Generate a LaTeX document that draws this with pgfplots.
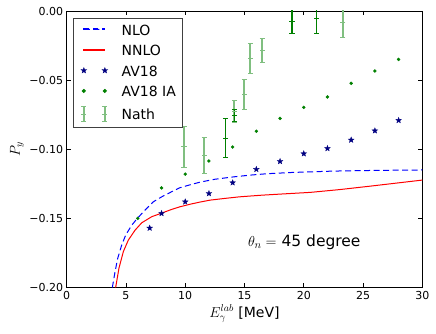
\documentclass[border=0pt]{standalone}
\usepackage{fontspec}
\setmainfont{DejaVu Sans}
\usepackage{pgfplots}
\pgfplotsset{compat=1.18}

\definecolor{mplgreen}{rgb}{0,0.5,0}
\definecolor{nathgreen}{rgb}{0.5,0.75,0.5}
\definecolor{mplnavy}{rgb}{0,0,0.5}

% filled five-pointed star, like matplotlib's '*'
\pgfdeclareplotmark{fstar}{%
  \pgfpathmoveto{\pgfpointpolar{90}{\pgfplotmarksize}}%
  \pgfpathlineto{\pgfpointpolar{126}{0.42\pgfplotmarksize}}%
  \pgfpathlineto{\pgfpointpolar{162}{\pgfplotmarksize}}%
  \pgfpathlineto{\pgfpointpolar{198}{0.42\pgfplotmarksize}}%
  \pgfpathlineto{\pgfpointpolar{234}{\pgfplotmarksize}}%
  \pgfpathlineto{\pgfpointpolar{270}{0.42\pgfplotmarksize}}%
  \pgfpathlineto{\pgfpointpolar{306}{\pgfplotmarksize}}%
  \pgfpathlineto{\pgfpointpolar{342}{0.42\pgfplotmarksize}}%
  \pgfpathlineto{\pgfpointpolar{18}{\pgfplotmarksize}}%
  \pgfpathlineto{\pgfpointpolar{54}{0.42\pgfplotmarksize}}%
  \pgfpathclose\pgfusepathqfillstroke}

% legend samples: 21pt wide, followed by a 16pt gap before the text
\pgfplotsset{
  nlolegend/.style={legend image code/.code={
    \path (0pt,0pt) (39.7pt,0pt);
    \fill[blue] (2.4pt,-0.5pt) rectangle (8.4pt,0.5pt) (11.9pt,-0.5pt) rectangle (17.9pt,0.5pt)
      (21.4pt,-0.5pt) rectangle (23.4pt,0.5pt);}},
  nnlolegend/.style={legend image code/.code={
    \path (0pt,0pt) (39.7pt,0pt);
    \fill[red] (2.4pt,-0.5pt) rectangle (23.4pt,0.5pt);}},
  twomarks/.style={legend image code/.code={
    \path (0pt,0pt) (39.7pt,0pt);
    \draw[mark repeat=1,##1,draw=#1,fill=#1] plot coordinates {(2.4pt,0pt) (23.4pt,0pt)};}},
  barlegend/.style={legend image code/.code={
    \path (0pt,0pt) (39.7pt,0pt);
    \draw[draw=nathgreen,line width=2pt] (2.4pt,-7.5pt) -- (2.4pt,7.5pt) (23.4pt,-7.5pt) -- (23.4pt,7.5pt);
    \draw[draw=nathgreen,line width=1pt] (-0.2pt,-7.5pt) -- (5pt,-7.5pt) (-0.2pt,0pt) -- (5pt,0pt) (-0.2pt,7.5pt) -- (5pt,7.5pt)
      (20.8pt,-7.5pt) -- (26pt,-7.5pt) (20.8pt,0pt) -- (26pt,0pt) (20.8pt,7.5pt) -- (26pt,7.5pt);}},
}

\begin{document}
\begin{tikzpicture}
\begin{axis}[
scale only axis,width=355.6pt,height=276.5pt,
xmin=0,xmax=30,ymin=-0.2,ymax=0,
xtick={0,5,10,15,20,25,30},xticklabels={0,5,10,15,20,25,30},
ytick={-0.2,-0.15,-0.1,-0.05,0},yticklabels={−0.20,−0.15,−0.10,−0.05,0.00},
tick align=inside,major tick length=4pt,tick style={black,line width=0.6pt},
axis line style={line width=0.9pt},
ticklabel style={font=\fontsize{11}{13}\selectfont},
xlabel={$E_\gamma^{lab}$ [MeV]},ylabel={$P_y$},
every axis x label/.style={at={(axis description cs:0.5,-0.107)},anchor=base,font=\fontsize{14}{16}\selectfont},
every axis y label/.style={at={(axis description cs:-0.14,0.5)},rotate=90,anchor=center,font=\fontsize{14}{16}\selectfont},
legend cell align=left,
legend style={at={(0.0186,0.9736)},anchor=north west,draw=black!75,line width=0.9pt,
  inner xsep=7pt,inner ysep=5pt,row sep=9pt,column sep=0pt,
  nodes={inner sep=0pt,text height=11.5pt,text depth=0pt,font=\fontsize{14}{16}\selectfont}},
]
\coordinate (sw) at (rel axis cs:0,0);
\coordinate (ne) at (rel axis cs:1,1);

% NLO
\addplot[blue,line width=1pt,dash pattern=on 6pt off 3.5pt,nlolegend] coordinates {
(3.85,-0.200) (4.08,-0.1886) (4.30,-0.179) (4.64,-0.1693) (4.98,-0.162)
(5.49,-0.1549) (5.96,-0.150) (6.61,-0.144) (7.31,-0.138) (8.02,-0.1344)
(8.86,-0.1307) (9.56,-0.1278) (10.5,-0.1255) (11.25,-0.1238) (12.5,-0.1217)
(14.06,-0.1200) (15.5,-0.1187) (16.9,-0.1177) (19.0,-0.1168) (22.5,-0.1158)
(26.0,-0.1153) (30.0,-0.1150)};
\addlegendentry{NLO}

% NNLO
\addplot[red,line width=1pt,nnlolegend] coordinates {
(4.13,-0.200) (4.41,-0.186) (4.78,-0.174) (5.2,-0.1657) (5.77,-0.1585)
(6.33,-0.1532) (7.17,-0.1488) (8.07,-0.146) (8.86,-0.1435) (9.56,-0.1416)
(10.5,-0.1396) (11.25,-0.1382) (12.1,-0.1368) (13.3,-0.1356) (14.6,-0.1344)
(16.5,-0.1332) (18.5,-0.1322) (20.55,-0.1312) (23.0,-0.1292) (25.5,-0.1268)
(28.0,-0.1243) (30.0,-0.1223)};
\addlegendentry{NNLO}

% AV18
\addplot[only marks,mark=fstar,mark size=3pt,mark options={fill=mplnavy,draw=mplnavy,line width=0.3pt},twomarks=mplnavy] coordinates {
(7,-0.157) (8,-0.1464) (10,-0.138) (12,-0.132) (14,-0.1242) (16,-0.1145)
(18,-0.1088) (20,-0.1032) (22,-0.0994) (24,-0.0933) (26,-0.0866) (28,-0.0791)};
\addlegendentry{AV18}

% AV18 IA
\addplot[only marks,mark=*,mark size=1.5pt,mark options={fill=mplgreen,draw=mplgreen},twomarks=mplgreen] coordinates {
(6,-0.150) (8,-0.128) (10,-0.118) (12,-0.1085) (14,-0.0984) (16,-0.087)
(18,-0.0777) (20,-0.0697) (22,-0.0622) (24,-0.0523) (26,-0.0434) (28,-0.035)};
\addlegendentry{AV18 IA}

% Nath (light bars)
\addplot[color=nathgreen,only marks,mark=-,mark size=2.6pt,mark options={draw=nathgreen,line width=1pt},barlegend,
  error bars/.cd,y dir=both,y explicit,error mark=|,
  error bar style={draw=nathgreen,line width=2pt},
  error mark options={draw=nathgreen,mark size=2.6pt,line width=1pt}]
coordinates {
(9.9,-0.0982) +- (0,0.0150)
(11.6,-0.1042) +- (0,0.0130)
(14.15,-0.0724) +- (0,0.0080)
(14.97,-0.0603) +- (0,0.0109)
(15.5,-0.0342) +- (0,0.0108)
(16.5,-0.0287) +- (0,0.0089)
(23.3,-0.0082) +- (0,0.0108)};
\addlegendentry{Nath}

% Nath (dark bars)
\addplot[forget plot,color=mplgreen,only marks,mark=-,mark size=2.6pt,mark options={draw=mplgreen,line width=1pt},
  error bars/.cd,y dir=both,y explicit,error mark=|,
  error bar style={draw=mplgreen,line width=1.2pt},
  error mark options={draw=mplgreen,mark size=2.6pt,line width=1pt}]
coordinates {
(13.4,-0.0921) +- (0,0.0140)
(14.15,-0.0756) +- (0,0.0045)
(19.0,-0.0075) +- (0,0.0086)
(21.06,-0.0053) +- (0,0.0108)};

\node[anchor=base west,font=\fontsize{15.5}{18}\selectfont] at (axis cs:15,-0.17) {$\theta_n=$ 45 degree};
\end{axis}
\pgfresetboundingbox
\path ([shift={(-66.7pt,-46.5pt)}]sw) rectangle ([shift={(13.7pt,11pt)}]ne);
\end{tikzpicture}
\end{document}
